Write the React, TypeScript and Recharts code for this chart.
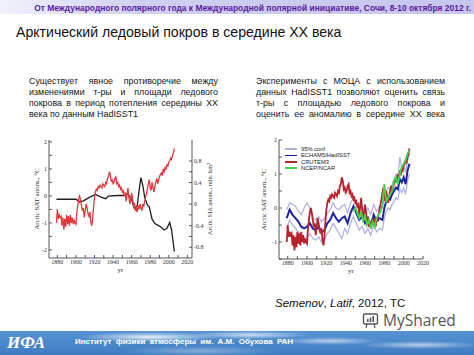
import React from "react";
import { LineChart, Line, XAxis, YAxis, Label } from "recharts";

// ---- data ----

// Arctic SAT anomaly (CRUTEM3 / HadISST1), one value per year from 1879
const SAT_FIRST_YEAR = 1879;
const satAnom = [
  -1.0, -0.5, -0.85, -0.7, -0.8, -0.75, -1.1, -0.8, -1.25, -0.85, -1.15,
  -0.7, -1.05, -0.75, -1.1, -0.7, -1.0, -0.8, -1.05, -0.9, -1.0, -1.05,
  -0.6, -0.35, -0.1, 0.0, -0.15, -0.35, -0.55, -0.45, -0.8, -0.55,
  -0.3, -0.45, -0.65, -0.75, -0.6, -0.95, -1.1, -0.85, -0.4, -0.05,
  0.15, 0.25, 0.2, 0.35, 0.3, 0.4, 0.35, 0.3, 0.45, 0.4,
  0.35, 0.5, 0.45, 0.65, 0.7, 0.9, 0.8, 0.55, 0.6, 0.45,
  0.5, 0.65, 0.7, 0.45, 0.5, 0.35, 0.4, 0.25, 0.3, 0.15,
  0.2, 0.05, 0.1, -0.2, 0.05, 0.3, -0.05, -0.3, -0.15, 0.1,
  -0.1, -0.4, -0.25, -0.55, -0.45, -0.6, -0.35, -0.5, -0.3, -0.45,
  -0.55, -0.3, -0.4, -0.2, -0.05, 0.1, 0.25, 0.45, 0.6, 0.3,
  0.2, 0.5, 0.3, 0.15, 0.35, 0.5, 0.65, 0.45, 0.6, 0.7,
  0.8, 0.85, 0.75, 1.0, 0.9, 1.05, 1.0, 1.15, 1.1, 1.25,
  1.3, 1.4, 1.35, 1.5, 1.6, 1.75,
];

// Arctic sea ice area anomaly, mln km2 (right axis of the left panel)
const siaYears = [
  1879, 1900, 1904, 1908, 1914, 1921, 1927, 1932, 1935, 1945, 1952, 1956,
  1960, 1963, 1966, 1968, 1970, 1972, 1974, 1977, 1979, 1982, 1985, 1988,
  1991, 1995, 1998, 2001, 2003, 2006,
];
const siaAnom = [
  0.09, 0.09, 0.04, 0.06, 0.12, 0.18, 0.13, 0.1, 0.15, 0.16, 0.16, 0.19,
  0.08, -0.08, -0.03, 0.25, 0.49, 0.35, 0.13, -0.02, -0.05, -0.28, -0.36, -0.39,
  -0.42, -0.48, -0.45, -0.34, -0.48, -0.88,
];

// ECHAM5/HadISST ensemble mean with 95% bounds
const echamYears = [
  1879, 1882, 1885, 1888, 1891, 1894, 1897, 1900, 1903, 1906, 1909, 1912,
  1915, 1918, 1921, 1924, 1927, 1930, 1933, 1936, 1939, 1942, 1945, 1948,
  1951, 1954, 1957, 1960, 1963, 1966, 1969, 1972, 1975, 1978, 1980, 1982,
  1984, 1986, 1988, 1990, 1992, 1994, 1996, 1998, 2000, 2002, 2004, 2006,
];
const echamMean = [
  -0.3, -0.05, -0.2, -0.3, -0.4, -0.55, -0.6, -0.55, -0.45, -0.6, -0.65, -0.55,
  -0.7, -0.65, -0.45, -0.35, -0.15, -0.3, -0.4, -0.3, -0.25, -0.45, -0.15, 0.05,
  -0.15, -0.35, -0.25, -0.45, -0.3, -0.5, -0.2, -0.4, -0.3, -0.35, 0.0, 0.2,
  0.3, 0.25, 0.4, 0.5, 0.6, 0.55, 0.85, 0.75, 0.9, 0.7, 1.1, 1.3,
];
const echamUpper = [
  -0.05, 0.15, 0.1, 0.05, -0.1, -0.2, 0.0, 0.15, 0.0, -0.3, -0.35, -0.25,
  -0.4, -0.3, -0.15, -0.05, 0.15, 0.0, -0.05, 0.05, 0.1, -0.15, 0.15, 0.3,
  0.1, -0.05, 0.05, -0.15, 0.0, -0.2, 0.1, -0.1, 0.05, 0.0, 0.3, 0.5,
  0.6, 0.55, 0.7, 0.85, 1.0, 0.9, 1.5, 1.15, 1.25, 1.05, 1.4, 1.6,
];
const echamLower = [
  -0.6, -0.35, -0.5, -0.6, -0.7, -0.85, -0.9, -0.85, -0.75, -0.9, -0.95, -0.85,
  -1.0, -0.95, -0.75, -0.65, -0.45, -0.6, -0.75, -0.9, -0.6, -0.75, -0.45, -0.25,
  -0.45, -0.65, -0.55, -0.75, -0.6, -0.8, -0.5, -0.7, -0.6, -0.65, -0.3, -0.1,
  0.0, -0.05, 0.1, 0.2, 0.3, 0.25, 0.55, 0.45, 0.6, 0.4, 0.8, 1.0,
];

// NCEP/NCAR reanalysis
const ncepYears = [
  1948, 1950, 1952, 1954, 1956, 1958, 1960, 1962, 1964, 1966, 1968, 1970,
  1972, 1974, 1976, 1978, 1980, 1982, 1984, 1986, 1988, 1990, 1992, 1994,
  1996, 1998, 2000, 2002, 2004, 2006,
];
const ncepAnom = [
  -0.1, 0.0, -0.15, -0.3, -0.1, -0.4, -0.2, -0.5, -0.35, -0.6, -0.4, -0.55,
  -0.3, -0.2, -0.1, 0.1, 0.7, 0.2, 0.3, 0.4, 0.5, 0.8, 0.9, 0.7,
  1.0, 1.2, 1.3, 1.4, 1.6, 1.7,
];

const YEAR_TICKS = [1880, 1890, 1900, 1910, 1920, 1930, 1940, 1950, 1960, 1970, 1980, 1990, 2000, 2010, 2020];
const SAT_TICKS = [-2, -1.5, -1, -0.5, 0, 0.5, 1, 1.5, 2];
const SIA_TICKS = [-0.8, -0.6, -0.4, -0.2, 0, 0.2, 0.4, 0.6, 0.8];
const SAT2_TICKS = [-1.5, -1, -0.5, 0, 0.5, 1, 1.5, 2];

const LEGEND = [
  { name: "95% conf", color: "#aeaee2" },
  { name: "ECHAM5/HadISST", color: "#1c24a6" },
  { name: "CRUTEM3", color: "#b8222a" },
  { name: "NCEP/NCAR", color: "#46d246" },
];

const satData = satAnom.map((v, i) => ({ year: SAT_FIRST_YEAR + i, sat: v }));
const siaData = siaYears.map((y, i) => ({ year: y, sia: siaAnom[i] }));
const echamData = echamYears.map((y, i) => ({ year: y, mean: echamMean[i], hi: echamUpper[i], lo: echamLower[i] }));
const ncepData = ncepYears.map((y, i) => ({ year: y, ncep: ncepAnom[i] }));

const SERIF = "'Liberation Serif', 'DejaVu Serif', serif";
const SANS = "'Liberation Sans', Arial, sans-serif";
const TICK = { fontSize: 6, fill: "#333", fontFamily: SERIF };
const AXIS = "#555";

const yearLabel = (v: number) => (v % 20 === 0 ? String(v) : "");
const intLabel = (v: number) => (Number.isInteger(v) ? String(v) : "");
const siaLabel = (v: number) => (Math.round(v * 10) % 4 === 0 ? String(v) : "");

function SatSiaChart() {
  const xDomain: [number, number] = [1871, 2025];
  return (
    <LineChart width={240} height={150} margin={{ top: 10, right: 18, bottom: 0, left: 0 }}>
      <XAxis xAxisId="b" dataKey="year" type="number" domain={xDomain} ticks={YEAR_TICKS} interval={0}
        tickFormatter={yearLabel} tickSize={-3} tickMargin={5} height={22} stroke={AXIS} tick={TICK} allowDataOverflow>
        <Label value="yr" position="center" dy={1} fontSize={7} fill="#333" fontFamily={SERIF} />
      </XAxis>
      <XAxis xAxisId="t" orientation="top" dataKey="year" type="number" domain={xDomain} ticks={YEAR_TICKS} interval={0}
        tick={false} tickSize={-3} height={0} stroke={AXIS} allowDataOverflow />
      <YAxis yAxisId="sat" type="number" domain={[-2.3, 2.07]} ticks={SAT_TICKS} interval={0} tickFormatter={intLabel}
        tickSize={-3} tickMargin={5} width={49} stroke={AXIS} tick={TICK} allowDataOverflow>
        <Label value="Arctic SAT anom., °C" angle={-90} position="center" dx={12} fontSize={7} fill="#333" fontFamily={SERIF} />
      </YAxis>
      <YAxis yAxisId="sia" orientation="right" type="number" domain={[-1.0, 1.19]} ticks={SIA_TICKS} interval={0}
        tickFormatter={siaLabel} tickSize={-3} tickMargin={5} width={30} stroke={AXIS} tick={TICK} allowDataOverflow>
        <Label value="Arctic SIA anom., mln. km²" angle={-90} position="center" dx={3} fontSize={6.5} fill="#333" fontFamily={SERIF} />
      </YAxis>
      <Line xAxisId="b" yAxisId="sia" data={siaData} dataKey="sia" stroke="#1e1e1e" strokeWidth={1.3}
        dot={false} isAnimationActive={false} />
      <Line xAxisId="b" yAxisId="sat" data={satData} dataKey="sat" stroke="#e2383d" strokeWidth={1.3}
        dot={false} isAnimationActive={false} />
    </LineChart>
  );
}

function ModelChart() {
  const xDomain: [number, number] = [1871, 2020];
  const yDomain: [number, number] = [-1.5, 2];
  return (
    <div style={{ position: "relative", width: 234, height: 150 }}>
      <LineChart width={234} height={150} margin={{ top: 10, right: 51, bottom: 0, left: 0 }}>
        <XAxis xAxisId="b" dataKey="year" type="number" domain={xDomain} ticks={YEAR_TICKS} interval={0}
          tickFormatter={yearLabel} tickSize={-3} tickMargin={5} height={21} stroke={AXIS} tick={TICK} allowDataOverflow>
          <Label value="yr" position="center" dy={1} fontSize={7} fill="#333" fontFamily={SERIF} />
        </XAxis>
        <XAxis xAxisId="t" orientation="top" dataKey="year" type="number" domain={xDomain} ticks={YEAR_TICKS} interval={0}
          tick={false} tickSize={-3} height={0} stroke={AXIS} allowDataOverflow />
        <YAxis yAxisId="l" type="number" domain={yDomain} ticks={SAT2_TICKS} interval={0} tickFormatter={intLabel}
          tickSize={-3} tickMargin={5} width={39} stroke={AXIS} tick={TICK} allowDataOverflow>
          <Label value="Arctic SAT anom., °C" angle={-90} position="center" dx={4} fontSize={7} fill="#333" fontFamily={SERIF} />
        </YAxis>
        <YAxis yAxisId="r" orientation="right" type="number" domain={yDomain} ticks={SAT2_TICKS} interval={0}
          tick={false} tickSize={-3} width={0} stroke={AXIS} allowDataOverflow />
        <Line xAxisId="b" yAxisId="l" data={echamData} dataKey="hi" stroke={LEGEND[0].color} strokeWidth={1.2}
          dot={false} isAnimationActive={false} />
        <Line xAxisId="b" yAxisId="l" data={echamData} dataKey="lo" stroke={LEGEND[0].color} strokeWidth={1.2}
          dot={false} isAnimationActive={false} />
        <Line xAxisId="b" yAxisId="l" data={echamData} dataKey="mean" stroke={LEGEND[1].color} strokeWidth={2}
          dot={false} isAnimationActive={false} />
        <Line xAxisId="b" yAxisId="l" data={satData} dataKey="sat" stroke={LEGEND[2].color} strokeWidth={1.8}
          dot={false} isAnimationActive={false} />
        <Line xAxisId="b" yAxisId="l" data={ncepData} dataKey="ncep" stroke={LEGEND[3].color} strokeWidth={1.8}
          dot={false} isAnimationActive={false} />
      </LineChart>
      <div style={{ position: "absolute", left: 45, top: 16, fontFamily: SANS, fontSize: 5.8, lineHeight: "6.3px", color: "#222" }}>
        {LEGEND.map((l) => (
          <div key={l.name} style={{ display: "flex", alignItems: "center" }}>
            <span style={{ width: 12, height: 1.6, background: l.color, marginRight: 4 }} />
            {l.name}
          </div>
        ))}
      </div>
    </div>
  );
}

function Para({ lines, left, justifyLast }: { lines: string[]; left: number; justifyLast?: boolean }) {
  return (
    <div style={{ position: "absolute", left, top: 76, width: 189, fontSize: 8.9, lineHeight: "10.9px", color: "#151515" }}>
      {lines.map((t, i) => (
        <div key={i} style={{ textAlign: "justify", textAlignLast: i < lines.length - 1 || justifyLast ? "justify" : "left" }}>
          {t}
        </div>
      ))}
    </div>
  );
}

export default function App() {
  return (
    <div style={{ position: "absolute", left: 0, top: 0, width: 474, height: 355, overflow: "hidden", background: "#fff", fontFamily: SANS }}>
      {/* conference banner */}
      <div style={{
        position: "absolute", left: 0, top: 0, width: 474, height: 14,
        background: "linear-gradient(to right, #f1f1fb 0%, #cfcff1 30%, #c6c6ee 100%)",
      }}>
        <div style={{ position: "absolute", right: 3, top: 3, fontSize: 8.45, fontWeight: "bold", color: "#5b1aa0", whiteSpace: "nowrap", lineHeight: "10px" }}>
          От Международного полярного года к Международной полярной инициативе, Сочи, 8-10 октября 2012 г.
        </div>
      </div>

      <div style={{ position: "absolute", left: 16, top: 23, fontSize: 14.1, lineHeight: "18px", color: "#111", whiteSpace: "nowrap" }}>
        Арктический ледовый покров в середине XX века
      </div>

      <Para left={29} lines={[
        "Существует явное противоречие между",
        "изменениями т-ры и площади ледового",
        "покрова в период потепления середины XX",
        "века по данным HadISST1",
      ]} />
      <Para left={256} justifyLast lines={[
        "Эксперименты с МОЦА с использованием",
        "данных HadISST1 позволяют оценить связь",
        "т-ры с площадью ледового покрова и",
        "оценить ее аномалию в середине XX века",
      ]} />

      <div style={{ position: "absolute", left: 0, top: 130 }}>
        <SatSiaChart />
      </div>
      <div style={{ position: "absolute", left: 240, top: 130 }}>
        <ModelChart />
      </div>

      <div style={{ position: "absolute", left: 275, top: 296, fontSize: 11.5, lineHeight: "14px", color: "#111", whiteSpace: "nowrap" }}>
        <i>Semenov</i>, <i>Latif</i>, 2012, TC
      </div>

      {/* footer */}
      <div style={{
        position: "absolute", left: 0, top: 331, width: 474, height: 24,
        background:
          "radial-gradient(ellipse 70px 5px at 150px 6px, rgba(255,255,255,0.85), rgba(255,255,255,0)), " +
          "radial-gradient(ellipse 60px 4px at 250px 4px, rgba(255,255,255,0.7), rgba(255,255,255,0)), " +
          "radial-gradient(ellipse 50px 4px at 330px 10px, rgba(255,255,255,0.6), rgba(255,255,255,0)), " +
          "radial-gradient(ellipse 60px 4px at 420px 14px, rgba(255,255,255,0.6), rgba(255,255,255,0)), " +
          "radial-gradient(ellipse 80px 5px at 200px 20px, rgba(255,255,255,0.35), rgba(255,255,255,0)), " +
          "linear-gradient(to bottom, #5793d3, #3f7cc2)",
      }}>
        <div style={{ position: "absolute", left: 7, top: 2, fontFamily: SERIF, fontSize: 17, fontWeight: "bold", fontStyle: "italic", color: "#fff", lineHeight: "20px" }}>
          ИФА
        </div>
        <div style={{ position: "absolute", left: 75, top: 6, fontSize: 8, fontWeight: "bold", color: "#fff", wordSpacing: 2, whiteSpace: "nowrap" }}>
          Институт физики атмосферы им. А.М. Обухова РАН
        </div>
      </div>

      {/* watermark */}
      <div style={{ position: "absolute", left: 362, top: 311, display: "flex", alignItems: "center", color: "#555", whiteSpace: "nowrap" }}>
        <svg width={17} height={17} viewBox="0 0 17 17">
          <rect x={1.5} y={2} width={14} height={10} rx={1.5} fill="none" stroke="#555" strokeWidth={1.4} />
          <rect x={5} y={7} width={1.6} height={3} fill="#555" />
          <rect x={7.7} y={5.5} width={1.6} height={4.5} fill="#555" />
          <rect x={10.4} y={4} width={1.6} height={6} fill="#555" />
          <line x1={5} y1={12} x2={4} y2={16} stroke="#555" strokeWidth={1.2} />
          <line x1={12} y1={12} x2={13} y2={16} stroke="#555" strokeWidth={1.2} />
        </svg>
        <span style={{ marginLeft: 4, fontFamily: "'Open Sans', 'Noto Sans', sans-serif", fontSize: 15.5, lineHeight: "18px" }}>MyShared</span>
      </div>
    </div>
  );
}
